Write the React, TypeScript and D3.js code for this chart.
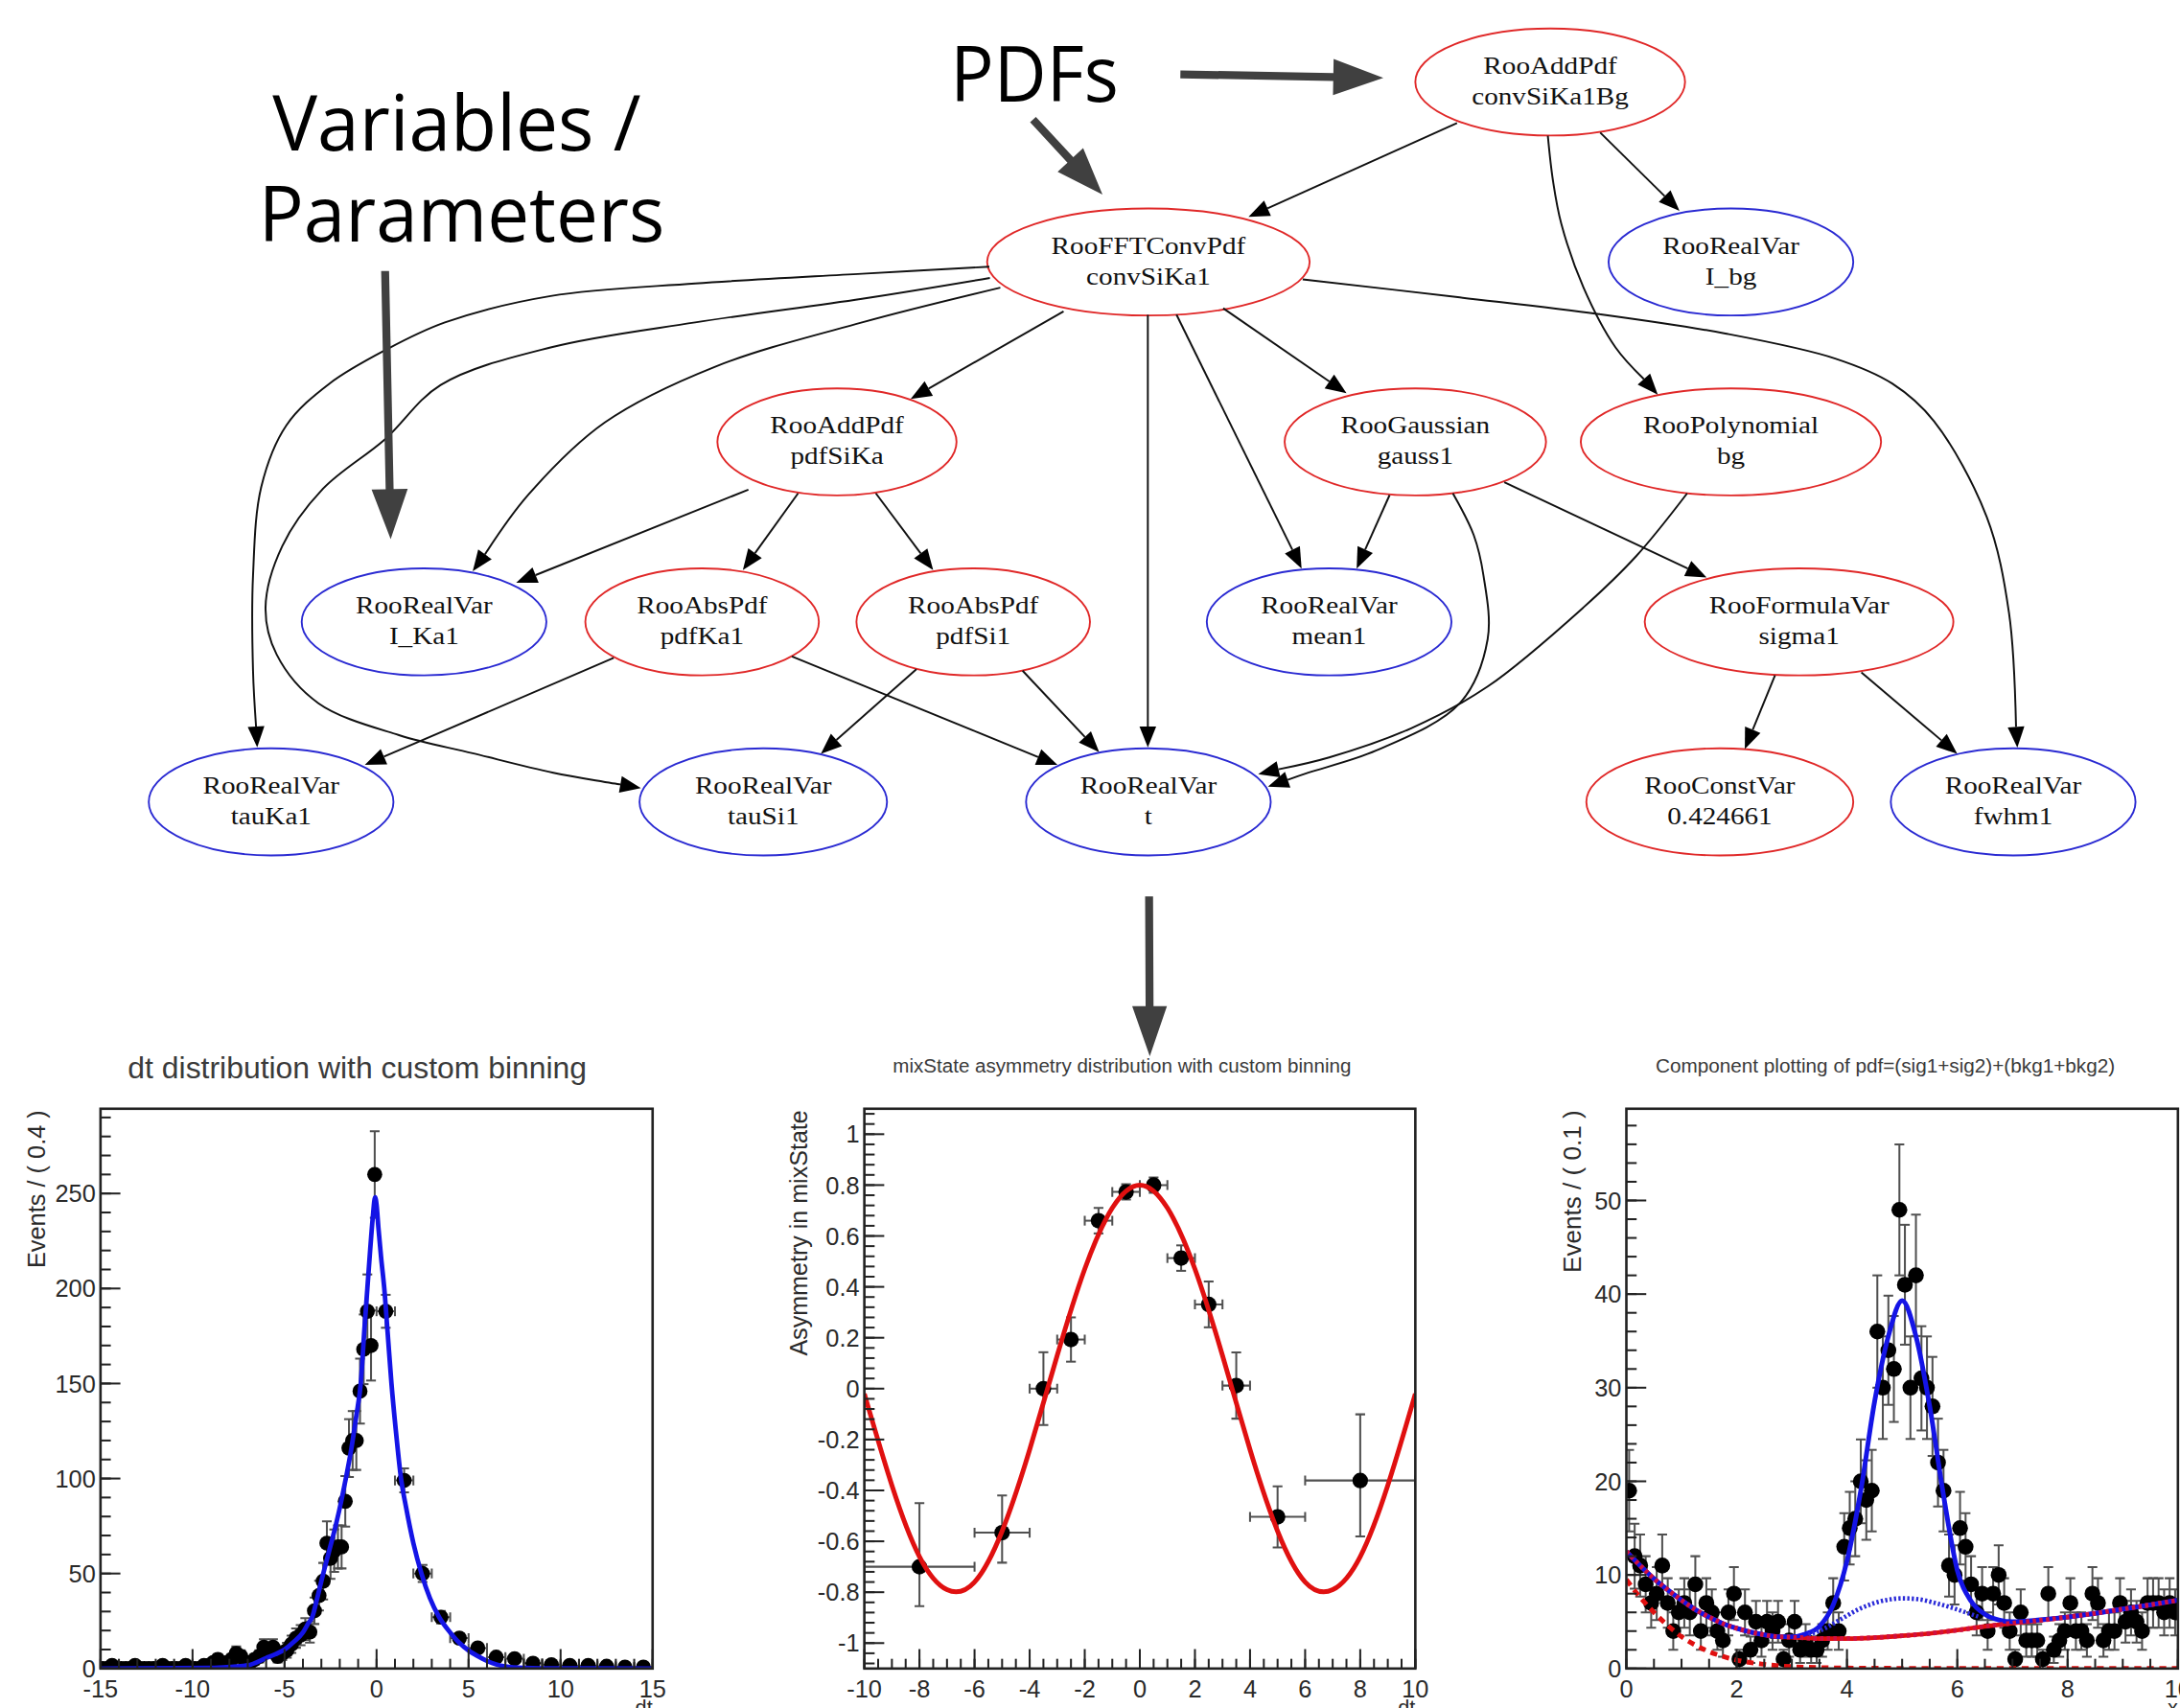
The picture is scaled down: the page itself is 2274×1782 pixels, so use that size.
import React from 'react'
import * as d3 from 'd3'

// whole picture is laid out in a 1568 x 1229 box, scaled up to the window
const VW = 1568
const VH = 1229

// ---------- RooFit model graph ----------
const nodeIds = ['convSiKa1Bg', 'convSiKa1', 'I_bg', 'pdfSiKa', 'gauss1', 'bg', 'I_Ka1', 'pdfKa1', 'pdfSi1', 'mean1', 'sigma1', 'tauKa1', 'tauSi1', 't', 'c0424661', 'fwhm1']
const nodeClasses = ['RooAddPdf', 'RooFFTConvPdf', 'RooRealVar', 'RooAddPdf', 'RooGaussian', 'RooPolynomial', 'RooRealVar', 'RooAbsPdf', 'RooAbsPdf', 'RooRealVar', 'RooFormulaVar', 'RooRealVar', 'RooRealVar', 'RooRealVar', 'RooConstVar', 'RooRealVar']
const nodeNames = ['convSiKa1Bg', 'convSiKa1', 'I_bg', 'pdfSiKa', 'gauss1', 'bg', 'I_Ka1', 'pdfKa1', 'pdfSi1', 'mean1', 'sigma1', 'tauKa1', 'tauSi1', 't', '0.424661', 'fwhm1']
const nodeRank = [0, 1, 1, 2, 2, 2, 3, 3, 3, 3, 3, 4, 4, 4, 4, 4]

// layout of the graph (positions / sizes)
const nodeX = [1115, 826, 1245, 602, 1018, 1245, 305, 505, 700, 956, 1294, 195, 549, 826, 1237, 1448]
const nodeRx = [97, 116, 88, 86, 94, 108, 88, 84, 84, 88, 111, 88, 89, 88, 96, 88]
const nodeRy = 38.5

const edgeFrom = ['convSiKa1Bg', 'convSiKa1Bg', 'convSiKa1Bg', 'convSiKa1', 'convSiKa1', 'convSiKa1', 'convSiKa1', 'convSiKa1', 'convSiKa1', 'convSiKa1', 'convSiKa1', 'pdfSiKa', 'pdfSiKa', 'pdfSiKa', 'pdfKa1', 'pdfKa1', 'pdfSi1', 'pdfSi1', 'gauss1', 'gauss1', 'gauss1', 'bg', 'sigma1', 'sigma1']
const edgeTo = ['convSiKa1', 'I_bg', 'bg', 'tauKa1', 'tauSi1', 'I_Ka1', 'pdfSiKa', 't', 'mean1', 'gauss1', 'fwhm1', 'I_Ka1', 'pdfKa1', 'pdfSi1', 'tauKa1', 't', 'tauSi1', 't', 'mean1', 't', 'sigma1', 't', 'c0424661', 'fwhm1']
// routed edge paths (tail ... tip)
const edgeRoutes: [number, number][][] = [
  [[1048, 88.5], [898, 156]],
  [[1151, 95.4], [1208, 151.7]],
  [[1113.3, 97.7], [1117, 130], [1123, 161], [1139, 207], [1162, 250], [1192.4, 283.9]],
  [[711.6, 191.9], [620, 197], [500, 204], [396, 213], [320, 232], [277, 252], [237, 276], [206, 306], [188, 350], [182, 414], [182, 483], [185, 537.8]],
  [[712, 200], [620, 215], [500, 232], [396, 250], [317, 277], [277, 316], [232, 352], [203, 393], [191, 437], [199, 471], [229, 506], [287, 529], [340, 542], [398, 556], [461, 567]],
  [[719.5, 207], [620, 232], [514, 264], [435, 304], [380, 356], [340, 411]],
  [[765, 224], [655, 287]],
  [[825.6, 226.5], [825.6, 537.8]],
  [[846.2, 226.4], [936.2, 409.1]],
  [[879.8, 221.8], [968.5, 283]],
  [[937, 201], [1050, 214], [1150, 226], [1241, 240], [1320, 258], [1361, 276], [1391, 303], [1429, 372], [1445, 441], [1451, 538]],
  [[538.3, 352.3], [371.3, 419.4]],
  [[574, 355], [534.3, 410.2]],
  [[630, 355], [671.2, 410.2]],
  [[441.4, 473.4], [262.4, 550.4]],
  [[569.6, 472.3], [760.6, 550.4]],
  [[659.1, 481.5], [590.4, 542.4]],
  [[735.5, 482.6], [790.6, 541.2]],
  [[999.5, 356.2], [975.8, 409.1]],
  [[1045, 355], [1060, 385], [1067, 414], [1070, 460], [1050, 506], [990, 540], [941, 556], [912, 566]],
  [[1082, 347], [1227.5, 415.5]],
  [[1213.5, 355], [1177, 400], [1139, 437], [1070, 494], [1015, 524], [956, 545], [905, 557]],
  [[1276.7, 486], [1255, 539]],
  [[1338.8, 483.8], [1407.8, 542.4]],
]

// ---------- plot 1: dt distribution ----------
const dtLeftY = [0, 0, 1.6, 0, 0, 0, 0, 1.6, 0, 0, 0, 0, 0, 1.6, 0, 0, 0, 0, 1.6, 0, 0, 0, 1.6, 1.6,
  3.2, 4.8, 1.6, 3.2, 4.8, 8, 6.4, 3.2, 3.2, 4.8, 6.4, 11.2, 9.6, 11.2, 6.4, 8,
  9.6, 12.8, 16, 17.6, 20.8, 19.2, 30.4, 38.4] // 0.25 bins in [-15,-3]
const dtMidY = [46, 66, 58, 62, 64, 64, 88, 116, 120, 120, 146, 168, 188, 170, 260] // 0.2 bins in [-3,0]
const dtRightY = [188, 99, 50, 27, 16, 10.8, 6, 5.2, 2.8, 2, 1.6, 1.6, 1.2, 0.8, 0.8] // 1.0 bins in [0,15]
const dtCurveX = [-15, -9, -8, -7, -6, -5.5, -5, -4.5, -4, -3.7, -3.5, -3.25, -3, -2.6, -2.2, -1.9, -1.67, -1.4, -1.1, -0.86, -0.65, -0.5, -0.35, -0.2, -0.08, 0, 0.1, 0.25, 0.42, 0.6, 0.81, 1.05, 1.33, 1.6, 2.0, 2.44, 2.9, 3.4, 4, 4.5, 5, 5.5, 6, 6.5, 7, 8, 9, 15]
const dtCurveY = [0, 0.3, 0.8, 1.7, 5.5, 7.5, 10, 14, 19, 24, 27, 36, 46, 61, 76, 89, 100, 114, 133, 150, 180, 200, 220, 238, 248, 244, 232, 216, 200, 177, 150, 125, 100, 85, 66, 50, 37, 27, 19, 13.5, 9.5, 6.5, 4, 2.2, 1.1, 0.3, 0.1, 0]
const dtXTicks = [-15, -10, -5, 0, 5, 10, 15]
const dtYTicks = [0, 50, 100, 150, 200, 250]

// ---------- plot 2: mixState asymmetry ----------
const asymX = [-8, -5, -3.5, -2.5, -1.5, -0.5, 0.5, 1.5, 2.5, 3.5, 5, 8]
const asymY = [-0.70, -0.566, 0.0, 0.193, 0.66, 0.773, 0.80, 0.513, 0.331, 0.012, -0.504, -0.361]
const asymXErr = [2, 1, 0.5, 0.5, 0.5, 0.5, 0.5, 0.5, 0.5, 0.5, 1, 2]
const asymErrHi = [0.25, 0.146, 0.143, 0.087, 0.05, 0.03, 0.03, 0.05, 0.09, 0.13, 0.12, 0.26]
const asymErrLo = [0.155, 0.118, 0.143, 0.087, 0.05, 0.03, 0.03, 0.05, 0.09, 0.13, 0.12, 0.22]
const asymCurveX = [-10, -9, -8, -7, -6, -5, -4, -3, -2, -1, 0, 1, 2, 3, 4, 5, 6, 7, 8, 9, 10]
const asymCurveY = [-0.02, -0.38, -0.66, -0.79, -0.76, -0.56, -0.24, 0.13, 0.47, 0.71, 0.80, 0.71, 0.47, 0.13, -0.24, -0.56, -0.76, -0.79, -0.66, -0.38, -0.02]
const asymXTicks = [-10, -8, -6, -4, -2, 0, 2, 4, 6, 8, 10]
const asymYTicks = [-1, -0.8, -0.6, -0.4, -0.2, 0, 0.2, 0.4, 0.6, 0.8, 1]

// ---------- plot 3: component plotting ----------
const compCounts = [19, 12, 11, 9, 7, 8, 11, 7, 4, 6,
  7, 6, 9, 4, 7, 6, 4, 3, 6, 8,
  1, 6, 2, 5, 3, 5, 4, 5, 1, 3,
  5, 2, 3, 2, 2, 3, 4, 7, 4, 13,
  15, 16, 20, 18, 19, 36, 30, 34, 32, 49,
  41, 30, 42, 31, 30, 28, 22, 19, 11, 10,
  15, 13, 9, 6, 8, 4, 8, 10, 7, 4,
  1, 6, 3, 3, 3, 1, 8, 2, 3, 4,
  7, 4, 4, 3, 8, 7, 3, 4, 4, 7,
  5, 6, 5, 4, 7, 7, 7, 6, 7, 6]
const totalX = [0, 0.25, 0.5, 0.75, 1, 1.25, 1.5, 1.75, 2, 2.25, 2.5, 2.75, 3, 3.25, 3.5, 3.75, 4, 4.25, 4.5, 4.75, 5, 5.25, 5.5, 5.75, 6, 6.25, 6.5, 6.75, 7, 7.5, 8, 8.5, 9, 9.5, 10]
const totalY = [12.5, 11.0, 9.6, 8.4, 7.3, 6.3, 5.5, 4.8, 4.3, 3.9, 3.6, 3.4, 3.4, 3.7, 4.5, 6.8, 11.5, 19, 28.5, 35.5, 39.3, 35.5, 28, 18.5, 10.5, 7.2, 5.8, 5.2, 5.0, 5.2, 5.5, 5.9, 6.35, 6.8, 7.3]
const bkgX = [0, 0.25, 0.5, 0.75, 1, 1.25, 1.5, 1.75, 2, 2.25, 2.5, 2.75, 3, 3.5, 4, 4.5, 5, 5.5, 6, 6.5, 7, 7.5, 8, 8.5, 9, 9.5, 10]
const bkgY = [12.5, 11.0, 9.6, 8.4, 7.3, 6.3, 5.5, 4.8, 4.3, 3.9, 3.6, 3.4, 3.35, 3.2, 3.2, 3.3, 3.5, 3.75, 4.1, 4.5, 4.85, 5.15, 5.5, 5.9, 6.35, 6.8, 7.3]
const sig2X = [3.3, 3.6, 3.9, 4.2, 4.5, 4.8, 5.0, 5.3, 5.6, 5.9, 6.2, 6.4]
const sig2Y = [3.6, 4.3, 5.3, 6.3, 7.0, 7.4, 7.5, 7.4, 7.0, 6.5, 5.9, 5.5]
const bkg1X = [0, 0.25, 0.5, 0.75, 1, 1.25, 1.5, 1.75, 2, 2.5, 3, 3.5, 4, 5, 6, 7, 8, 9, 10]
const bkg1Y = [9.5, 7.6, 6.0, 4.6, 3.4, 2.5, 1.8, 1.3, 0.9, 0.45, 0.2, 0.1, 0.05, 0.02, 0.01, 0, 0, 0, 0]
const compXTicks = [0, 2, 4, 6, 8, 10]
const compYTicks = [0, 10, 20, 30, 40, 50]

const SANS = 'Liberation Sans, Arial, sans-serif'
const SERIF = 'Liberation Serif, Times New Roman, serif'
const RED = '#e02828'
const BLUE = '#2a2ad2'

const rowY = d3.scaleLinear().domain([0, 4]).range([59, 577])

function fatArrow(x1: number, y1: number, x2: number, y2: number, sw = 5.7, hl = 36, hw = 13) {
  const a = Math.atan2(y2 - y1, x2 - x1)
  const c = Math.cos(a), s = Math.sin(a)
  const bx = x2 - hl * c, by = y2 - hl * s
  const nx = -s, ny = c
  const pts = [
    [x1 + nx * sw / 2, y1 + ny * sw / 2],
    [bx + nx * sw / 2, by + ny * sw / 2],
    [bx + nx * hw, by + ny * hw],
    [x2, y2],
    [bx - nx * hw, by - ny * hw],
    [bx - nx * sw / 2, by - ny * sw / 2],
    [x1 - nx * sw / 2, y1 - ny * sw / 2],
  ]
  return pts.map(p => p.join(',')).join(' ')
}

function Graph() {
  const edgeLine = d3.line().curve(d3.curveCatmullRom.alpha(0.5))
  return (
    <g>
      {nodeIds.map((id, i) => {
        const cx = nodeX[i], cy = rowY(nodeRank[i])
        const col = nodeClasses[i] === 'RooRealVar' ? BLUE : RED
        return (
          <g key={id}>
            <ellipse cx={cx} cy={cy} rx={nodeRx[i]} ry={nodeRy} fill="#fff" stroke={col} strokeWidth={1.3} />
            <g transform={`translate(${cx},${cy}) scale(1.15,1)`} fontFamily={SERIF} fontSize={17.5} fill="#111" textAnchor="middle">
              <text y={-6}>{nodeClasses[i]}</text>
              <text y={16}>{nodeNames[i]}</text>
            </g>
          </g>
        )
      })}
      {edgeRoutes.map((route, i) => {
        const n = route.length
        const [px, py] = route[n - 2]
        const [tx, ty] = route[n - 1]
        const a = Math.atan2(ty - py, tx - px)
        const L = 15, hw = 6
        const bx = tx - L * Math.cos(a), by = ty - L * Math.sin(a)
        const pts = route.slice(0, n - 1).concat([[bx, by]]) as [number, number][]
        const head = [[tx, ty], [bx - hw * Math.sin(a), by + hw * Math.cos(a)], [bx + hw * Math.sin(a), by - hw * Math.cos(a)]]
        return (
          <g key={edgeFrom[i] + '-' + edgeTo[i]}>
            <path d={edgeLine(pts) || ''} fill="none" stroke="#111" strokeWidth={1.35} />
            <polygon points={head.map(p => p.join(',')).join(' ')} fill="#000" />
          </g>
        )
      })}
    </g>
  )
}

function Annotations() {
  const arrowCol = '#404040'
  return (
    <g fontFamily="Open Sans, Noto Sans, sans-serif" fill="#000">
      <text x={328.5} y={108} fontSize={56} textAnchor="middle" textLength={265} lengthAdjust="spacingAndGlyphs">Variables /</text>
      <text x={332} y={174} fontSize={56} textAnchor="middle" textLength={292} lengthAdjust="spacingAndGlyphs">Parameters</text>
      <text x={744} y={73} fontSize={56} textAnchor="middle" textLength={121} lengthAdjust="spacingAndGlyphs">PDFs</text>
      <polygon points={fatArrow(277, 195, 281, 388)} fill={arrowCol} />
      <polygon points={fatArrow(849, 53.5, 995, 56)} fill={arrowCol} />
      <polygon points={fatArrow(743, 86, 793, 140, 5.7, 34, 12.5)} fill={arrowCol} />
      <polygon points={fatArrow(826.5, 645, 827, 760, 5.7, 36, 12.5)} fill={arrowCol} />
    </g>
  )
}

type Frame = { left: number; right: number; top: number; bottom: number }
type Scales = { x: d3.ScaleLinear<number, number>; y: d3.ScaleLinear<number, number> }

function Plot(props: {
  id: string
  frame: Frame
  xDomain: [number, number]
  yDomain: [number, number]
  xTicks: number[]
  yTicks: number[]
  xMinorStep: number
  yMinorStep: number
  title: string
  titleX: number
  titleY: number
  titleSize: number
  yTitle: string
  yTitleX: number
  yTitleSize: number
  xTitle: string
  children: (s: Scales) => React.ReactNode
}) {
  const { frame } = props
  const x = d3.scaleLinear().domain(props.xDomain).range([frame.left, frame.right])
  const y = d3.scaleLinear().domain(props.yDomain).range([frame.bottom, frame.top])
  const eps = 1e-9
  const xMinor = d3.range(Math.ceil(props.xDomain[0] / props.xMinorStep - eps), Math.floor(props.xDomain[1] / props.xMinorStep + eps) + 1).map(k => k * props.xMinorStep)
  const yMinor = d3.range(Math.ceil(props.yDomain[0] / props.yMinorStep - eps), Math.floor(props.yDomain[1] / props.yMinorStep + eps) + 1).map(k => k * props.yMinorStep)
  const tickCol = '#222'
  const labelCol = '#2a2a2a'
  return (
    <g>
      <defs>
        <clipPath id={props.id + '-clip'}>
          <rect x={frame.left} y={frame.top} width={frame.right - frame.left} height={frame.bottom - frame.top} />
        </clipPath>
      </defs>
      <text x={props.titleX} y={props.titleY} fontFamily={SANS} fontSize={props.titleSize} fill="#3a3a3a" textAnchor="middle">{props.title}</text>
      <g clipPath={`url(#${props.id}-clip)`}>{props.children({ x, y })}</g>
      <rect x={frame.left} y={frame.top} width={frame.right - frame.left} height={frame.bottom - frame.top} fill="none" stroke={tickCol} strokeWidth={1.8} />
      {xMinor.map(v => (
        <line key={'xm' + v} x1={x(v)} x2={x(v)} y1={frame.bottom} y2={frame.bottom - 7} stroke={tickCol} strokeWidth={1.4} />
      ))}
      {props.xTicks.map(v => (
        <line key={'xM' + v} x1={x(v)} x2={x(v)} y1={frame.bottom} y2={frame.bottom - 14} stroke={tickCol} strokeWidth={1.4} />
      ))}
      {yMinor.map(v => (
        <line key={'ym' + v} x1={frame.left} x2={frame.left + 7.4} y1={y(v)} y2={y(v)} stroke={tickCol} strokeWidth={1.4} />
      ))}
      {props.yTicks.map(v => (
        <line key={'yM' + v} x1={frame.left} x2={frame.left + 14.3} y1={y(v)} y2={y(v)} stroke={tickCol} strokeWidth={1.4} />
      ))}
      <g fontFamily={SANS} fontSize={17.5} fill={labelCol}>
        {props.xTicks.map(v => (
          <text key={'xl' + v} x={x(v)} y={frame.bottom + 20.5} textAnchor="middle">{String(v)}</text>
        ))}
        {props.yTicks.map(v => (
          <text key={'yl' + v} x={frame.left - 3.5} y={y(v)} dy="0.36em" textAnchor="end">{String(v)}</text>
        ))}
        <text x={frame.right} y={frame.bottom + 33} fontSize={15} textAnchor="end">{props.xTitle}</text>
        <text transform={`translate(${props.yTitleX},${frame.top + 1}) rotate(-90)`} dy="0.36em" fontSize={props.yTitleSize} textAnchor="end">{props.yTitle}</text>
      </g>
    </g>
  )
}

function Points(props: { s: Scales; xs: number[]; ys: number[]; exLo: number[]; exHi: number[]; eyLo: number[]; eyHi: number[]; r: number }) {
  const { x, y } = props.s
  const cap = 3.5
  return (
    <g>
      {props.xs.map((xv, i) => {
        const px = x(xv), py = y(props.ys[i])
        const x0 = x(xv - props.exLo[i]), x1 = x(xv + props.exHi[i])
        const y0 = y(props.ys[i] - props.eyLo[i]), y1 = y(props.ys[i] + props.eyHi[i])
        return (
          <g key={i} stroke="#505050" strokeWidth={1.4}>
            <line x1={x0} x2={x1} y1={py} y2={py} />
            <line x1={px} x2={px} y1={y0} y2={y1} />
            {props.eyHi[i] > 0 && <line x1={px - cap} x2={px + cap} y1={y1} y2={y1} />}
            {props.eyLo[i] > 0 && <line x1={px - cap} x2={px + cap} y1={y0} y2={y0} />}
            <line x1={x0} x2={x0} y1={py - cap} y2={py + cap} />
            <line x1={x1} x2={x1} y1={py - cap} y2={py + cap} />
          </g>
        )
      })}
      {props.xs.map((xv, i) => (
        <circle key={'m' + i} cx={x(xv)} cy={y(props.ys[i])} r={props.r} fill="#000" />
      ))}
    </g>
  )
}

function curvePath(s: Scales, xs: number[], ys: number[], curve: d3.CurveFactory) {
  const line = d3.line<number>().x((_, i) => s.x(xs[i])).y(v => s.y(v)).curve(curve)
  return line(ys) || ''
}

export default function App() {
  // dt plot: bin centres / half widths from the custom binning
  const dtX = [
    ...dtLeftY.map((_, i) => -15 + 0.125 + 0.25 * i),
    ...dtMidY.map((_, i) => -3 + 0.1 + 0.2 * i),
    ...dtRightY.map((_, i) => 0.5 + i),
  ]
  const dtHW = [...dtLeftY.map(() => 0.125), ...dtMidY.map(() => 0.1), ...dtRightY.map(() => 0.5)]
  const dtY = [...dtLeftY, ...dtMidY, ...dtRightY]
  const dtErr = dtY.map((v, i) => {
    const w = 2 * dtHW[i]
    return Math.sqrt((v * w) / 0.4) * 0.4 / w
  })

  const compX = compCounts.map((_, i) => 0.05 + 0.1 * i)
  const compErr = compCounts.map(n => Math.sqrt(n))
  const compHW = compCounts.map(() => 0.05)

  const f1: Frame = { left: 72.3, right: 469.4, top: 797.8, bottom: 1200.6 }
  const f2: Frame = { left: 621.7, right: 1018, top: 797.8, bottom: 1200.6 }
  const f3: Frame = { left: 1169.8, right: 1566.5, top: 797.8, bottom: 1200.6 }

  return (
    <svg
      width={2274}
      height={1782}
      viewBox={`0 0 ${VW} ${VH}`}
      preserveAspectRatio="none"
      style={{ position: 'absolute', left: 0, top: 0, background: '#fff' }}
    >
      <rect x={0} y={0} width={VW} height={VH} fill="#fff" />
      <Graph />
      <Annotations />

      <Plot id="p1" frame={f1} xDomain={[-15, 15]} yDomain={[0, 294.6]} xTicks={dtXTicks} yTicks={dtYTicks}
        xMinorStep={1} yMinorStep={10} title="dt distribution with custom binning" titleX={257} titleY={776} titleSize={22}
        yTitle="Events / ( 0.4 )" yTitleX={26.2} yTitleSize={17.5} xTitle="dt">
        {s => (
          <g>
            <Points s={s} xs={dtX} ys={dtY} exLo={dtHW} exHi={dtHW} eyLo={dtErr} eyHi={dtErr} r={5.4} />
            <path d={curvePath(s, dtCurveX, dtCurveY, d3.curveMonotoneX)} fill="none" stroke="#1414e6" strokeWidth={3.3} />
          </g>
        )}
      </Plot>

      <Plot id="p2" frame={f2} xDomain={[-10, 10]} yDomain={[-1.1, 1.1]} xTicks={asymXTicks} yTicks={asymYTicks}
        xMinorStep={0.5} yMinorStep={0.04} title="mixState asymmetry distribution with custom binning" titleX={807} titleY={771.5} titleSize={14.2}
        yTitle="Asymmetry in mixState" yTitleX={574.2} yTitleSize={17.3} xTitle="dt">
        {s => (
          <g>
            <Points s={s} xs={asymX} ys={asymY} exLo={asymXErr} exHi={asymXErr} eyLo={asymErrLo} eyHi={asymErrHi} r={5.6} />
            <path d={curvePath(s, asymCurveX, asymCurveY, d3.curveNatural)} fill="none" stroke="#e01010" strokeWidth={3.4} />
          </g>
        )}
      </Plot>

      <Plot id="p3" frame={f3} xDomain={[0, 10]} yDomain={[0, 59.8]} xTicks={compXTicks} yTicks={compYTicks}
        xMinorStep={0.5} yMinorStep={2} title="Component plotting of pdf=(sig1+sig2)+(bkg1+bkg2)" titleX={1356} titleY={772} titleSize={14.3}
        yTitle="Events / ( 0.1 )" yTitleX={1130.6} yTitleSize={18} xTitle="x">
        {s => (
          <g>
            <Points s={s} xs={compX} ys={compCounts} exLo={compHW} exHi={compHW} eyLo={compErr} eyHi={compErr} r={5.7} />
            <path d={curvePath(s, bkgX, bkgY, d3.curveMonotoneX)} fill="none" stroke="#e01010" strokeWidth={3.2} />
            <path d={curvePath(s, bkg1X, bkg1Y, d3.curveMonotoneX)} fill="none" stroke="#e01010" strokeWidth={3.4} strokeDasharray="5 4" />
            <path d={curvePath(s, totalX, totalY, d3.curveMonotoneX)} fill="none" stroke="#1414e6" strokeWidth={3.4} />
            <path d={curvePath(s, sig2X, sig2Y, d3.curveMonotoneX)} fill="none" stroke="#2a2ad8" strokeWidth={3.2} strokeDasharray="1.6 1.6" />
            <path d={curvePath(s, bkgX, bkgY, d3.curveMonotoneX)} fill="none" stroke="#d01040" strokeWidth={3.4} strokeDasharray="2.4 2.4" />
          </g>
        )}
      </Plot>
    </svg>
  )
}
